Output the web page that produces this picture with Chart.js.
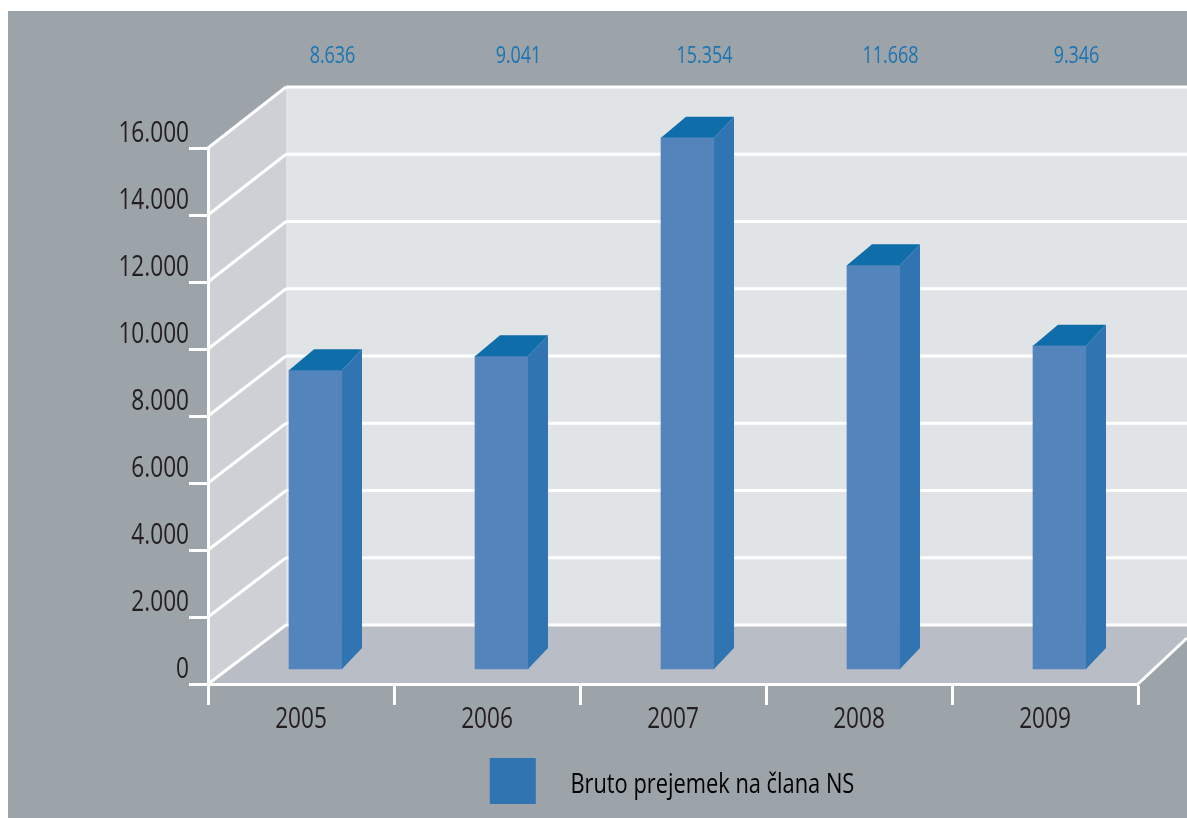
<!DOCTYPE html>
<html><head><meta charset="utf-8">
<style>html,body{margin:0;padding:0;background:#fff}canvas{display:block}</style>
<script src="https://cdn.jsdelivr.net/npm/chart.js@4/dist/chart.umd.min.js"></script>
</head><body>
<canvas id="c" width="1187" height="818"></canvas>
<script>
const years = [2005, 2006, 2007, 2008, 2009];
const grossPay = [8636, 9041, 15354, 11668, 9346];
const seriesName = 'Bruto prejemek na člana NS';
const yMax = 16000, yStep = 2000;

const FONT = "'Open Sans','Noto Sans',sans-serif";
const TEXT = '#231f20', BLUE = '#1b75b2', WHITE = '#ffffff';
const fmt = v => String(v).replace(/\B(?=(\d{3})+$)/g, '.');

const wallX = 78;
const backOf = v => 59 + 2 * v / yMax;
const NARROW = 0.78;
const legendPad = '   \u2009';
const legendText = legendPad + seriesName;

const canvas = document.getElementById('c');
const c2d = canvas.getContext('2d');
const rawFill = c2d.fillText;
c2d.fillText = function (t, x, y, m) {
  const dy = t === legendText ? 4 : 0;
  this.save();
  this.translate(x, 0);
  this.scale(NARROW, 1);
  if (m === undefined) rawFill.call(this, t, 0, y + dy); else rawFill.call(this, t, 0, y + dy, m);
  this.restore();
};

function poly(ctx, pts, fill) {
  ctx.beginPath();
  pts.forEach((p, i) => i ? ctx.lineTo(p[0], p[1]) : ctx.moveTo(p[0], p[1]));
  ctx.closePath();
  ctx.fillStyle = fill;
  ctx.fill();
}
function seg(ctx, x0, y0, x1, y1) {
  ctx.beginPath(); ctx.moveTo(x0, y0); ctx.lineTo(x1, y1); ctx.stroke();
}

const scene = {
  id: 'scene',
  afterLayout(chart) {
    const lg = chart.legend;
    const w = lg.right - lg.left;
    lg.top = 758; lg.bottom = 804;
    const cx = 715;
    lg.left = cx - w / 2; lg.right = cx + w / 2;
  },
  beforeDraw(chart) {
    const ctx = chart.ctx, W = chart.width, H = chart.height;
    const y = chart.scales.y, a = chart.chartArea;
    const L = a.left, R = a.right, B = y.getPixelForValue(0), T = y.getPixelForValue(yMax);
    const bx = L + wallX, by0 = B - backOf(0), byT = T - backOf(yMax);
    ctx.save();
    ctx.fillStyle = '#fff'; ctx.fillRect(0, 0, W, H);
    ctx.fillStyle = '#9ca3a9'; ctx.fillRect(8, 11, W - 8, H - 11);
    poly(ctx, [[bx, byT], [W, byT], [W, by0], [bx, by0]], '#e1e4e7');
    poly(ctx, [[L, T], [bx, byT], [bx, by0], [L, B]], '#cdd0d4');
    poly(ctx, [[L, B], [bx, by0], [R + 63, by0], [R, B]], '#b9bdc5');
    ctx.strokeStyle = WHITE; ctx.lineWidth = 3;
    for (let v = 0; v <= yMax; v += yStep) {
      const p = y.getPixelForValue(v), q = p - backOf(v);
      seg(ctx, L, p, bx, q);
      seg(ctx, bx, q, W, q);
    }
    seg(ctx, R, B, R + 49, B - 46);
    ctx.restore();
  },
  afterDatasetsDraw(chart) {
    const ctx = chart.ctx;
    const bars = chart.getDatasetMeta(0).data;
    const xb = chart.scales.xBars;
    ctx.save();
    bars.forEach((b, i) => {
      const x0 = b.x - b.width / 2, x1 = b.x + b.width / 2;
      poly(ctx, [[x1, b.y], [x1 + 20, b.y - 21], [x1 + 20, b.base - 21], [x1, b.base]], '#3075b1');
      poly(ctx, [[x0, b.y], [x0 + 25, b.y - 21], [x1 + 20, b.y - 21], [x1, b.y]], '#0f6daa');
      ctx.fillStyle = BLUE;
      ctx.font = '23px ' + FONT;
      ctx.textAlign = 'center';
      ctx.textBaseline = 'middle';
      ctx.fillText(fmt(grossPay[i]), xb.getPixelForValue(years[i]) + 17, 56);
    });
    ctx.restore();
  }
};

new Chart(canvas, {
  type: 'bar',
  data: {
    labels: years.map(String),
    datasets: [{
      label: seriesName,
      data: years.map((yr, i) => ({ x: yr, y: grossPay[i] })),
      xAxisID: 'xBars',
      yAxisID: 'yBars',
      backgroundColor: '#5384bb',
      borderWidth: 0,
      barThickness: 53,
      clip: false
    }]
  },
  options: {
    responsive: false,
    animation: false,
    devicePixelRatio: 1,
    layout: { padding: { left: 0, right: 49, top: 148, bottom: 0 } },
    plugins: {
      tooltip: { enabled: false },
      legend: {
        position: 'bottom',
        labels: {
          font: { family: FONT, size: 28 },
          color: TEXT,
          boxWidth: 46,
          boxHeight: 46,
          padding: 0,
          generateLabels: () => [{
            text: legendText,
            fillStyle: '#3075b1',
            strokeStyle: '#3075b1',
            lineWidth: 0,
            hidden: false,
            datasetIndex: 0
          }]
        }
      }
    },
    scales: {
      x: {
        type: 'category',
        position: 'bottom',
        offset: true,
        afterFit: s => { s.height = 78; },
        grid: {
          offset: true, drawOnChartArea: false, drawTicks: true,
          tickLength: 21, tickWidth: 3, tickColor: WHITE
        },
        border: { color: WHITE, width: 3 },
        ticks: {
          color: TEXT, padding: -3, maxRotation: 0,
          font: { family: FONT, size: 29 }
        }
      },
      y: {
        position: 'left',
        min: 0, max: yMax,
        afterFit: s => { s.width = 208; },
        grid: {
          drawOnChartArea: false, drawTicks: true,
          tickLength: 19, tickWidth: 3, tickColor: WHITE
        },
        border: { color: WHITE, width: 3 },
        ticks: {
          stepSize: yStep, autoSkip: false, padding: 0, labelOffset: -14,
          color: TEXT,
          font: { family: FONT, size: 29 },
          callback: v => fmt(v)
        }
      },
      xBars: { type: 'linear', display: false, offset: false, min: 2004.422, max: 2009.422 },
      yBars: { type: 'linear', display: false, min: -433, max: 15058 }
    }
  },
  plugins: [scene]
});
</script>
</body></html>
